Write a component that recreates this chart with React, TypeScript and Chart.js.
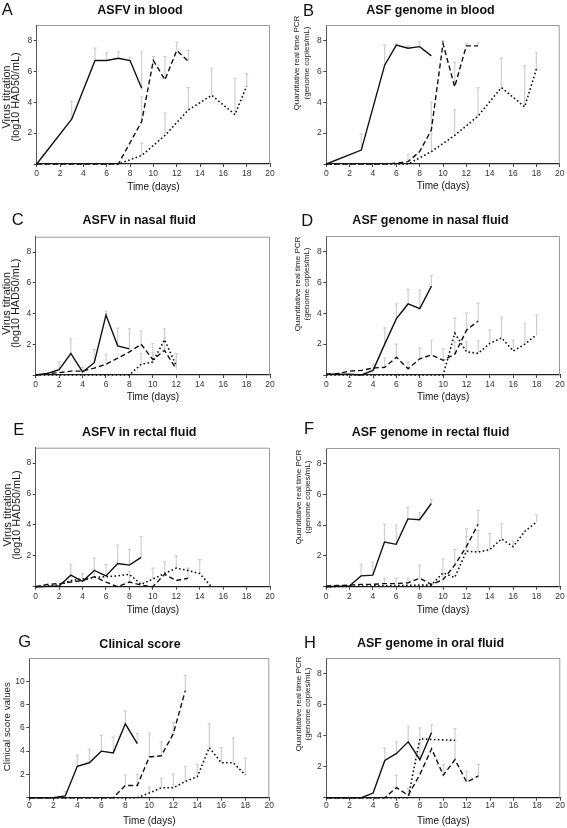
import React, { useEffect, useRef } from "react";
import { Chart, registerables } from "chart.js";

Chart.register(...registerables);

const _ = null;

// Days post infection (index of every series array)
const DAYS = [0, 1, 2, 3, 4, 5, 6, 7, 8, 9, 10, 11, 12, 13, 14, 15, 16, 17, 18];
const X_TICK_STEP = 2;

// ---- A: ASFV in blood ----
const A_SOLID = [0, _, _, 2.9, _, 6.7, 6.7, 6.85, 6.7, 4.9, _, _, _, _, _, _, _, _, _];
const A_SOLID_SD = [_, _, _, 1.15, _, 0.8, 0.5, 0.4, 0.2, 2.4, _, _, _, _, _, _, _, _, _];
const A_DASHED = [0, _, _, 0, _, 0, 0, 0, _, 2.75, 6.7, 5.45, 7.35, 6.65, _, _, _, _, _];
const A_DASHED_SD = [_, _, _, _, _, _, _, _, _, 1.6, 0.25, 1.5, 0.55, 0.7, _, _, _, _, _];
const A_DOTTED = [0, _, _, 0, _, 0, 0, 0, _, 0.55, _, 1.85, _, 3.5, _, 4.45, _, 3.2, 5.05];
const A_DOTTED_SD = [_, _, _, _, _, _, _, _, _, 0.8, _, 1.45, _, 1.45, _, 1.75, _, 2.35, 0.8];

// ---- B: ASF genome in blood ----
const B_SOLID = [0, _, _, 0.9, _, 6.4, 7.7, 7.5, 7.6, 7.0, _, _, _, _, _, _, _, _, _];
const B_SOLID_SD = [_, _, _, 1.05, _, 1.3, 0.1, 0.15, 0.3, _, _, _, _, _, _, _, _, _, _];
const B_DASHED = [0, _, _, 0, _, 0, 0.05, 0.15, 0.8, 2.2, 7.8, 5.0, 7.65, 7.65, _, _, _, _, _];
const B_DASHED_SD = [_, _, _, _, _, _, _, 0.45, _, 1.8, 0.15, 1.6, 0.15, 0.2, _, _, _, _, _];
const B_DOTTED = [0, _, _, 0, _, 0, 0, 0, _, 0.8, _, 1.85, _, 3.1, _, 4.95, _, 3.7, 6.15];
const B_DOTTED_SD = [_, _, _, _, _, _, _, _, _, 1.15, _, 1.65, _, 1.85, _, 1.9, _, 2.65, 1.05];

// ---- C: ASFV in nasal fluid ----
const C_SOLID = [0, 0.1, 0.35, 1.4, 0.2, 0.8, 3.9, 1.9, 1.7, _, _, _, _, _, _, _, _, _, _];
const C_SOLID_SD = [_, _, 0.5, 0.95, 0.3, 0.85, 0.25, 1.15, 1.3, _, _, _, _, _, _, _, _, _, _];
const C_DASHED = [0, 0.1, 0.15, 0.25, 0.25, 0.45, 0.7, 1.1, 1.5, 2.0, 1.0, 1.6, 0.4, _, _, _, _, _, _];
const C_DASHED_SD = [_, _, _, _, _, _, 0.65, _, _, 0.85, 1.05, 0.8, 1.0, _, _, _, _, _, _];
const C_DOTTED = [0, _, _, _, _, _, _, _, 0, 0.7, 0.85, 2.3, 0.6, _, _, _, _, _, _];
const C_DOTTED_SD = [_, _, _, _, _, _, _, _, _, 0.7, 0.6, 0.7, 0.8, _, _, _, _, _, _];

// ---- D: ASF genome in nasal fluid ----
const D_SOLID = [0.05, 0.05, 0.05, 0, 0.3, 2.0, 3.65, 4.6, 4.3, 5.75, _, _, _, _, _, _, _, _, _];
const D_SOLID_SD = [_, _, _, _, 0.35, 1.05, 0.95, 0.95, 1.2, 0.7, _, _, _, _, _, _, _, _, _];
const D_DASHED = [0.05, 0.1, 0.25, 0.3, 0.45, 0.5, 1.15, 0.4, 1.05, 1.3, 0.95, 1.35, 2.9, 3.5, _, _, _, _, _];
const D_DASHED_SD = [_, _, _, _, _, 0.6, 0.85, 0.45, 0.7, 0.95, 0.75, 0.8, 1.1, 1.15, _, _, _, _, _];
const D_DOTTED = [0, _, _, _, _, _, _, _, _, _, 0, 2.7, 1.5, 1.4, 2.05, 2.4, 1.55, 2.0, 2.6];
const D_DOTTED_SD = [_, _, _, _, _, _, _, _, _, _, _, 1.0, 0.65, 0.85, 0.85, 1.35, 0.7, 1.35, 1.3];

// ---- E: ASFV in rectal fluid ----
const E_SOLID = [0, 0.02, 0.05, 0.75, 0.35, 1.05, 0.7, 1.5, 1.4, 1.9, _, _, _, _, _, _, _, _, _];
const E_SOLID_SD = [_, _, _, 0.7, 0.5, 0.8, 0.75, 1.2, 1.0, 1.35, _, _, _, _, _, _, _, _, _];
const E_DASHED = [0, 0.15, 0.2, 0.3, 0.4, 0.65, 0.3, 0, 0.3, 0.1, 0, 0.8, 0.4, 0.55, _, _, _, _, _];
const E_DASHED_SD = [_, _, _, _, _, 0.45, _, _, 0.7, _, _, 0.8, _, 0.6, _, _, _, _, _];
const E_DOTTED = [0, 0.05, 0.1, 0.4, 0.5, 0.6, 0.65, 0.7, 0.8, 0.15, 0.5, 0.85, 1.2, 1.05, 0.85, 0, _, _, _];
const E_DOTTED_SD = [_, _, _, _, _, _, _, _, _, _, 0.7, 0.75, 0.8, 0.15, 0.9, _, _, _, _];

// ---- F: ASF genome in rectal fluid ----
const F_SOLID = [0, _, 0.05, 0.7, 0.75, 2.9, 2.75, 4.4, 4.35, 5.4, _, _, _, _, _, _, _, _, _];
const F_SOLID_SD = [_, _, _, 0.75, 0.85, 1.15, 1.25, 0.75, 0.45, 0.25, _, _, _, _, _, _, _, _, _];
const F_DASHED = [0.05, 0.08, 0.1, 0.15, 0.15, 0.2, 0.2, 0.25, 0.55, 0.15, 0.45, 1.4, 2.6, 4.05, _, _, _, _, _];
const F_DASHED_SD = [_, _, _, _, _, 0.35, 0.35, 0.3, 0.85, _, 1.35, 1.0, 1.15, 0.9, _, _, _, _, _];
const F_DOTTED = [0, _, _, _, _, _, _, _, 0.1, 0.1, 0.9, 0.6, 2.3, 2.25, 2.4, 3.1, 2.6, 3.6, 4.2];
const F_DOTTED_SD = [_, _, _, _, _, _, _, _, _, _, _, _, 0.95, 1.4, 1.05, 1.0, 0.35, _, 0.45];

// ---- G: Clinical score ----
const G_SOLID = [0, _, 0, 0.15, 2.7, 3.0, 4.0, 3.85, 6.35, 4.65, _, _, _, _, _, _, _, _, _];
const G_SOLID_SD = [_, _, _, 0.4, 0.95, 1.15, 1.35, 1.35, 1.1, 0.85, _, _, _, _, _, _, _, _, _];
const G_DASHED = [0, _, _, _, _, _, _, 0, 1.05, 1.05, 3.5, 3.6, 5.5, 9.2, _, _, _, _, _];
const G_DASHED_SD = [_, _, _, _, _, _, _, _, 0.9, 0.95, 2.05, 1.2, 1.0, 1.3, _, _, _, _, _];
const G_DOTTED = [0, _, _, _, _, _, _, _, _, 0, 0.4, 0.85, 0.85, 1.4, 1.8, 4.3, 3.0, 3.0, 1.95];
const G_DOTTED_SD = [_, _, _, _, _, _, _, _, _, _, 0.5, 0.8, 1.15, 1.3, 1.05, 2.05, 1.3, 2.15, 1.45];

// ---- H: ASF genome in oral fluid ----
const H_SOLID = [0, _, _, 0, 0.3, 2.4, 2.85, 3.6, 2.45, 4.2, _, _, _, _, _, _, _, _, _];
const H_SOLID_SD = [_, _, _, _, _, 0.8, 0.75, 1.0, 1.1, 0.5, _, _, _, _, _, _, _, _, _];
const H_DASHED = [0, _, _, _, _, 0, 0.65, 0.15, 1.5, 3.15, 1.45, 2.45, 1.0, 1.4, _, _, _, _, _];
const H_DASHED_SD = [_, _, _, _, _, _, 0.8, 0.45, _, _, 0.7, 1.2, 0.7, 0.75, _, _, _, _, _];
const H_DOTTED = [0, _, _, _, _, _, _, 0, 3.8, 3.75, _, 3.7, _, _, _, _, _, _, _];
const H_DOTTED_SD = [_, _, _, _, _, _, _, _, 0.7, _, _, 0.75, _, _, _, _, _, _, _];

const FONT = "'Liberation Sans', Arial, Helvetica, sans-serif";
const PAGE_H = 828;

type V = (number | null)[];

interface PanelDef {
  letter: string;
  title: string;
  yTitle: string[];
  yMax: number;
  series: [V, V, V];
  sds: [V, V, V];
  cellX: number;
  cellY: number;
  cellW: number;
  l: number;
  t: number;
  r: number;
  b: number;
  xTitleY: number;
  xTickPad: number;
  letterX: number;
  letterCapTop: number;
  titleX: number;
  titleY: number;
  yTitleX: number;
  yTitleY: number;
  yTitleFont: number;
  yTitleLH: number;
}

const VT = ["Virus titration", "(log10 HAD50/mL)"];
const PCR = ["Quantitative real time PCR", "(genome copies/mL)"];

const PANELS: PanelDef[] = [
  {
    letter: "A", title: "ASFV in blood", yTitle: VT, yMax: 9,
    series: [A_SOLID, A_DASHED, A_DOTTED], sds: [A_SOLID_SD, A_DASHED_SD, A_DOTTED_SD],
    cellX: 0, cellY: 0, cellW: 283, l: 36.7, t: 25, r: 270, b: 164, xTitleY: 187, xTickPad: 2,
    letterX: 1.7, letterCapTop: 3.3, titleX: 140, titleY: 10,
    yTitleX: 10.5, yTitleY: 97, yTitleFont: 10.8, yTitleLH: 9,
  },
  {
    letter: "B", title: "ASF genome in blood", yTitle: PCR, yMax: 9,
    series: [B_SOLID, B_DASHED, B_DOTTED], sds: [B_SOLID_SD, B_DASHED_SD, B_DOTTED_SD],
    cellX: 283, cellY: 0, cellW: 284, l: 326.3, t: 25, r: 559.7, b: 164, xTitleY: 186, xTickPad: 2,
    letterX: 303, letterCapTop: 4, titleX: 430.5, titleY: 10,
    yTitleX: 301, yTitleY: 63, yTitleFont: 8, yTitleLH: 9.4,
  },
  {
    letter: "C", title: "ASFV in nasal fluid", yTitle: VT, yMax: 9,
    series: [C_SOLID, C_DASHED, C_DOTTED], sds: [C_SOLID_SD, C_DASHED_SD, C_DOTTED_SD],
    cellX: 0, cellY: 205, cellW: 283, l: 35.7, t: 236.7, r: 270, b: 375, xTitleY: 397.7, xTickPad: 2,
    letterX: 11.7, letterCapTop: 213.3, titleX: 139.2, titleY: 220,
    yTitleX: 10.8, yTitleY: 303.3, yTitleFont: 10.8, yTitleLH: 9,
  },
  {
    letter: "D", title: "ASF genome in nasal fluid", yTitle: PCR, yMax: 9,
    series: [D_SOLID, D_DASHED, D_DOTTED], sds: [D_SOLID_SD, D_DASHED_SD, D_DOTTED_SD],
    cellX: 283, cellY: 205, cellW: 284, l: 326.3, t: 236, r: 560, b: 375, xTitleY: 397.7, xTickPad: 2,
    letterX: 301.3, letterCapTop: 214.3, titleX: 430.5, titleY: 220,
    yTitleX: 301.5, yTitleY: 284, yTitleFont: 8, yTitleLH: 9.4,
  },
  {
    letter: "E", title: "ASFV in rectal fluid", yTitle: VT, yMax: 9,
    series: [E_SOLID, E_DASHED, E_DOTTED], sds: [E_SOLID_SD, E_DASHED_SD, E_DOTTED_SD],
    cellX: 0, cellY: 410, cellW: 283, l: 35.7, t: 447.7, r: 270, b: 586.7, xTitleY: 610, xTickPad: 1.5,
    letterX: 13.3, letterCapTop: 423.3, titleX: 139.2, titleY: 431.7,
    yTitleX: 11.3, yTitleY: 515, yTitleFont: 10.8, yTitleLH: 9,
  },
  {
    letter: "F", title: "ASF genome in rectal fluid", yTitle: PCR, yMax: 9,
    series: [F_SOLID, F_DASHED, F_DOTTED], sds: [F_SOLID_SD, F_DASHED_SD, F_DOTTED_SD],
    cellX: 283, cellY: 410, cellW: 284, l: 326, t: 448, r: 560, b: 586.7, xTitleY: 610, xTickPad: 1.5,
    letterX: 304, letterCapTop: 422.3, titleX: 430.5, titleY: 431.7,
    yTitleX: 302.5, yTitleY: 497, yTitleFont: 8, yTitleLH: 9.4,
  },
  {
    letter: "G", title: "Clinical score", yTitle: ["Clinical score values"], yMax: 12,
    series: [G_SOLID, G_DASHED, G_DOTTED], sds: [G_SOLID_SD, G_DASHED_SD, G_DOTTED_SD],
    cellX: 0, cellY: 616, cellW: 283, l: 29.3, t: 658, r: 269.3, b: 797.7, xTitleY: 821.7, xTickPad: -0.5,
    letterX: 18.3, letterCapTop: 635, titleX: 140, titleY: 643.3,
    yTitleX: 6, yTitleY: 726.7, yTitleFont: 9.8, yTitleLH: 10,
  },
  {
    letter: "H", title: "ASF genome in oral fluid", yTitle: PCR, yMax: 9,
    series: [H_SOLID, H_DASHED, H_DOTTED], sds: [H_SOLID_SD, H_DASHED_SD, H_DOTTED_SD],
    cellX: 283, cellY: 616, cellW: 284, l: 326.3, t: 658, r: 560.3, b: 797.7, xTitleY: 821.7, xTickPad: -0.5,
    letterX: 304, letterCapTop: 635.7, titleX: 430.5, titleY: 643,
    yTitleX: 302.5, yTitleY: 704, yTitleFont: 8, yTitleLH: 9.4,
  },
];

const LINE_DASHES: number[][] = [[], [5, 3], [1.6, 2.4]];

const LETTER_SIZE = 16.5;
const TITLE_SIZE = 12.5;
const CAP = 0.716;

const framePlugin = {
  id: "frame",
  beforeDatasetsDraw(chart: any) {
    const { ctx, chartArea } = chart;
    const { left, top, right, bottom } = chartArea;
    ctx.save();
    ctx.strokeStyle = "#9a9a9a";
    ctx.lineWidth = 1;
    ctx.beginPath();
    ctx.moveTo(left, top + 0.5);
    ctx.lineTo(right - 0.5, top + 0.5);
    ctx.lineTo(right - 0.5, bottom);
    ctx.stroke();
    ctx.restore();
  },
};

// Panel letter, panel title and y-axis title, drawn as canvas text
function makeLabelPlugin(p: PanelDef, ox: number, oy: number) {
  return {
    id: "panelLabels",
    afterDraw(chart: any) {
      const ctx = chart.ctx;
      ctx.save();
      ctx.fillStyle = "#111111";
      // letter
      ctx.font = `${LETTER_SIZE}px ${FONT}`;
      ctx.textAlign = "left";
      ctx.textBaseline = "alphabetic";
      ctx.fillText(p.letter, p.letterX - ox, p.letterCapTop + CAP * LETTER_SIZE - oy);
      // title
      ctx.font = `bold ${TITLE_SIZE}px ${FONT}`;
      ctx.textAlign = "center";
      ctx.fillText(p.title, p.titleX - ox, p.titleY + (CAP * TITLE_SIZE) / 2 - oy);
      // y title (rotated)
      ctx.fillStyle = "#1a1a1a";
      ctx.font = `${p.yTitleFont}px ${FONT}`;
      ctx.translate(p.yTitleX - ox, p.yTitleY - oy);
      ctx.rotate(-Math.PI / 2);
      ctx.textAlign = "center";
      ctx.textBaseline = "alphabetic";
      const n = p.yTitle.length;
      p.yTitle.forEach((line, i) => {
        const off = (i - (n - 1) / 2) * p.yTitleLH;
        ctx.fillText(line, 0, off + (CAP * p.yTitleFont) / 2);
      });
      ctx.restore();
    },
  };
}

function PanelChart({ p }: { p: PanelDef }) {
  const ref = useRef<HTMLCanvasElement>(null);
  const canvasTop = p.cellY;
  const canvasH = Math.min(PAGE_H - canvasTop, Math.ceil(p.xTitleY + 8 - canvasTop));
  const canvasW = p.cellW;

  useEffect(() => {
    const canvas = ref.current;
    if (!canvas) return;
    const padTop = p.t - canvasTop;
    const padRight = p.cellX + p.cellW - p.r;
    const yW = p.l - p.cellX;
    const canvasBottom = canvasTop + canvasH;
    const xH = canvasBottom - p.b;
    const xTitlePad = Math.max(0, canvasBottom - p.xTitleY - 6);

    const datasets: any[] = [];
    p.series.forEach((vals, si) => {
      const pts = DAYS.map((d, i) => (vals[i] == null ? null : { x: d, y: vals[i] as number })).filter(
        (q) => q !== null
      );
      datasets.push({
        type: "line",
        data: pts,
        borderColor: "#111111",
        borderWidth: si === 2 ? 1.6 : 1.4,
        borderDash: LINE_DASHES[si],
        pointRadius: 0,
        tension: 0,
        fill: false,
        clip: 4,
        order: 0,
      });
    });
    p.series.forEach((vals, si) => {
      const sd = p.sds[si];
      const pts: any[] = [];
      DAYS.forEach((d, i) => {
        const v = vals[i];
        const e = sd[i];
        if (v == null || e == null) return;
        pts.push({ x: d, y: v });
        pts.push({ x: d, y: v + e });
        pts.push({ x: d, y: null });
      });
      datasets.push({
        type: "line",
        data: pts,
        borderColor: "#cfcfcf",
        borderWidth: 1.2,
        spanGaps: false,
        pointStyle: "line",
        pointRadius: (c: any) => (c.dataIndex % 3 === 1 ? 1.6 : 0),
        pointBorderColor: "#cfcfcf",
        pointBorderWidth: 1.2,
        tension: 0,
        fill: false,
        clip: 4,
        order: 1,
      });
    });

    const chart = new Chart(canvas, {
      type: "line",
      data: { datasets },
      plugins: [framePlugin, makeLabelPlugin(p, p.cellX, canvasTop)],
      options: {
        animation: false,
        responsive: false,
        events: [],
        layout: { padding: { top: padTop, right: padRight, left: 0, bottom: 0 } },
        plugins: {
          legend: { display: false },
          tooltip: { enabled: false },
          title: { display: false },
        },
        scales: {
          x: {
            type: "linear",
            min: 0,
            max: 20,
            afterFit: (s: any) => {
              s.height = xH;
              s.paddingLeft = 0;
              s.paddingRight = 0;
            },
            ticks: {
              stepSize: X_TICK_STEP,
              color: "#333333",
              font: { family: FONT, size: 8.5 },
              padding: p.xTickPad,
              maxRotation: 0,
              autoSkip: false,
            },
            grid: {
              display: true,
              drawOnChartArea: false,
              drawTicks: true,
              tickLength: 3,
              tickColor: "#444444",
            },
            border: { display: true, color: "#222222", width: 1.2 },
            title: {
              display: true,
              text: "Time (days)",
              color: "#111111",
              font: { family: FONT, size: 10, lineHeight: 1.2 },
              padding: { top: 0, bottom: xTitlePad },
            },
          },
          y: {
            type: "linear",
            min: 0,
            max: p.yMax,
            afterFit: (s: any) => {
              s.width = yW;
              s.paddingTop = 0;
              s.paddingBottom = 0;
            },
            ticks: {
              stepSize: 2,
              color: "#333333",
              font: { family: FONT, size: 8.5 },
              padding: 1.5,
              callback: (v: any) => (v === 0 || v === p.yMax ? "" : String(v)),
            },
            grid: {
              display: true,
              drawOnChartArea: false,
              drawTicks: true,
              tickLength: 3,
              tickColor: (c: any) => (c.tick && c.tick.value === p.yMax ? "rgba(0,0,0,0)" : "#444444"),
            },
            border: { display: true, color: "#555555", width: 1 },
            title: { display: false },
          },
        },
      } as any,
    });
    return () => chart.destroy();
  }, []);

  return (
    <canvas
      ref={ref}
      width={canvasW}
      height={canvasH}
      style={{ position: "absolute", left: p.cellX, top: canvasTop, width: canvasW, height: canvasH }}
    />
  );
}

export default function App() {
  return (
    <div
      style={{
        position: "absolute",
        left: 0,
        top: 0,
        width: 567,
        height: PAGE_H,
        background: "#ffffff",
        overflow: "hidden",
      }}
    >
      {PANELS.map((p) => (
        <PanelChart key={p.letter} p={p} />
      ))}
    </div>
  );
}
